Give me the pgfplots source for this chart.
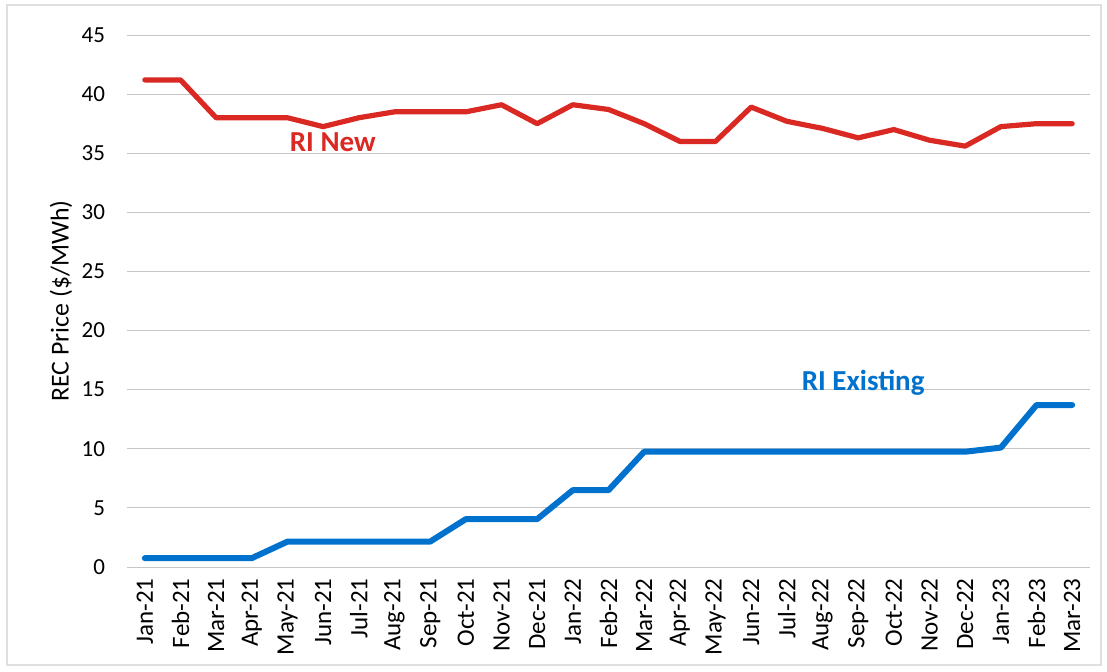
\documentclass[border=0pt]{standalone}
\usepackage{pgfplots}
\pgfplotsset{compat=1.18}
\usepackage{fontspec}
\setmainfont{Carlito}
\definecolor{rinew}{RGB}{218,40,34}
\definecolor{riexist}{RGB}{0,114,206}
\begin{document}
\begin{tikzpicture}
\useasboundingbox (-63.5pt,-52pt) rectangle (490pt,283.5pt);
\draw[gray!25, line width=0.6pt] (-60pt,-49pt) rectangle (487pt,281pt);
\begin{axis}[
  scale only axis,
  width=481.5pt, height=266pt,
  xmin=-0.5, xmax=26.5, ymin=0, ymax=45,
  axis line style={draw=none},
  major tick length=0pt,
  xtick={0,...,26},
  xticklabels={Jan-21,Feb-21,Mar-21,Apr-21,May-21,Jun-21,Jul-21,Aug-21,Sep-21,Oct-21,Nov-21,Dec-21,Jan-22,Feb-22,Mar-22,Apr-22,May-22,Jun-22,Jul-22,Aug-22,Sep-22,Oct-22,Nov-22,Dec-22,Jan-23,Feb-23,Mar-23},
  x tick label style={rotate=90, anchor=east, font=\fontsize{12.5}{14}\selectfont, inner sep=1pt},
  xticklabel shift=4.5pt,
  ytick={0,5,...,45},
  y tick label style={font=\fontsize{11.5}{13}\selectfont},
  yticklabel shift=7.5pt,
  /pgf/number format/assume math mode=true,
  ymajorgrids,
  grid style={gray!45, line width=0.5pt},
  ylabel={REC Price (\$/MWh)},
  ylabel style={font=\fontsize{12.9}{14}\selectfont, at={(axis description cs:-0.0685,0.5)}, anchor=center},
  clip=false,
]
\addplot[rinew, line width=2.6pt, line join=round, line cap=round] coordinates {
(0,41.2)(1,41.2)(2,38.0)(3,38.0)(4,38.0)(5,37.25)(6,38.0)(7,38.5)(8,38.5)(9,38.5)(10,39.1)(11,37.5)(12,39.1)(13,38.7)(14,37.5)(15,36.0)(16,36.0)(17,38.9)(18,37.7)(19,37.1)(20,36.3)(21,37.0)(22,36.1)(23,35.6)(24,37.25)(25,37.5)(26,37.5)
};
\addplot[riexist, line width=3pt, line join=round, line cap=round] coordinates {
(0,0.75)(1,0.75)(2,0.75)(3,0.75)(4,2.15)(5,2.15)(6,2.15)(7,2.15)(8,2.15)(9,4.05)(10,4.05)(11,4.05)(12,6.5)(13,6.5)(14,9.75)(15,9.75)(16,9.75)(17,9.75)(18,9.75)(19,9.75)(20,9.75)(21,9.75)(22,9.75)(23,9.75)(24,10.1)(25,13.7)(26,13.7)
};
\node[font=\bfseries\fontsize{14.5}{16}\selectfont, text=rinew] at (axis cs:5.27,35.9) {RI New};
\node[font=\bfseries\fontsize{14.5}{16}\selectfont, text=riexist] at (axis cs:20.14,15.6) {RI Existing};
\end{axis}
\end{tikzpicture}
\end{document}
